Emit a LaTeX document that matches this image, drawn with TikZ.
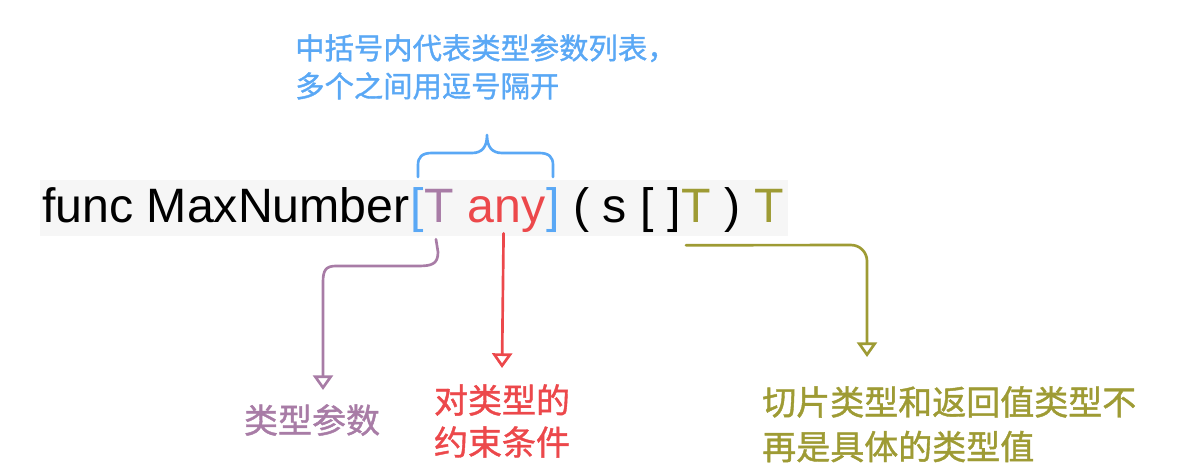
\documentclass[tikz,border=0pt]{standalone}
\usepackage{fontspec}
\setmainfont{Liberation Sans}
\newfontfamily\cjk[FakeBold=1.2]{Noto Sans CJK SC}
\usetikzlibrary{arrows.meta,calc}
\definecolor{cblue}{RGB}{90,168,245}
\definecolor{cpurple}{RGB}{168,124,166}
\definecolor{cred}{RGB}{236,72,75}
\definecolor{colive}{RGB}{158,155,52}
\definecolor{codebg}{RGB}{246,246,246}
\begin{document}
\begin{tikzpicture}[x=0.75pt,y=-0.75pt,
  code/.style={inner sep=0pt, anchor=base west, font=\fontsize{36.2pt}{40pt}\selectfont, text=black},
  lbl/.style={inner sep=0pt, font=\cjk\fontsize{25.5pt}{31.5pt}\selectfont, align=left},
  arr/.style={line width=2pt, -{Triangle[open,width=15pt,length=11pt]}, line cap=round, line join=round},
]
\useasboundingbox (0,0) rectangle (1188,470);
\fill[codebg] (40,180) rectangle (788,236);
% code line
\node[code] (f) at (42,223) {func MaxNumber};
\node[code,text=cblue] (lb) at (f.base east) {[};
\node[code,text=cpurple] (t1) at (lb.base east) {T};
\node[code,text=cred] (any) at ([xshift=10.06pt]t1.base east) {any};
\node[code,text=cblue] (rb) at (any.base east) {]};
\node[code] (p1) at (rb.base east) {\ ( s [ ]};
\node[code,text=colive] (t2) at (p1.base east) {T};
\node[code] (p2) at ([xshift=10.06pt]t2.base east) {)};
\node[code,text=colive] (t3) at ([xshift=10.06pt]p2.base east) {T};
% brace
\draw[cblue, line width=2pt, line cap=round, line join=round]
  (418,177) -- (418,165) .. controls (418,157) and (422,153) .. (432,153) -- (472,153)
  .. controls (482,153) and (487,147) .. (487,135)
  .. controls (487,147) and (492,153) .. (502,153) -- (539,153)
  .. controls (549,153) and (553,157) .. (553,165) -- (553,177);
% notes
\node[lbl, text=cblue, font=\cjk\fontsize{22pt}{28.5pt}\selectfont, anchor=north west] (note) at (295,34) {中括号内代表类型参数列表，\\多个之间用逗号隔开};
\node[lbl, text=cpurple, anchor=north] (lp) at (312,404) {类型参数};
\node[lbl, text=cred, anchor=north] (lr) at (502,384) {对类型的\\约束条件};
\node[lbl, text=colive, anchor=north west, font=\cjk\fontsize{25.5pt}{33.5pt}\selectfont] (lo) at (762,386) {切片类型和返回值类型不\\再是具体的类型值};
% arrows
\draw[arr,cpurple] ($(t1.south)+(-3,16)$) -- (438,252) .. controls (438,264) and (432,266) .. (418,266) -- (336,266) .. controls (326,266) and (323,270) .. (323,282) -- ($(lp.north)+(11,-14)$);
\draw[arr,cred] ($(any.south)+(-3,0)$) -- ($(lr.north)+(0,-16)$);
\draw[arr,colive,rounded corners=12pt] ($(t2.south west)+(5,22)$) -- (867,245) -- ($(lo.north west)+(105,-29)$);
\end{tikzpicture}
\end{document}
